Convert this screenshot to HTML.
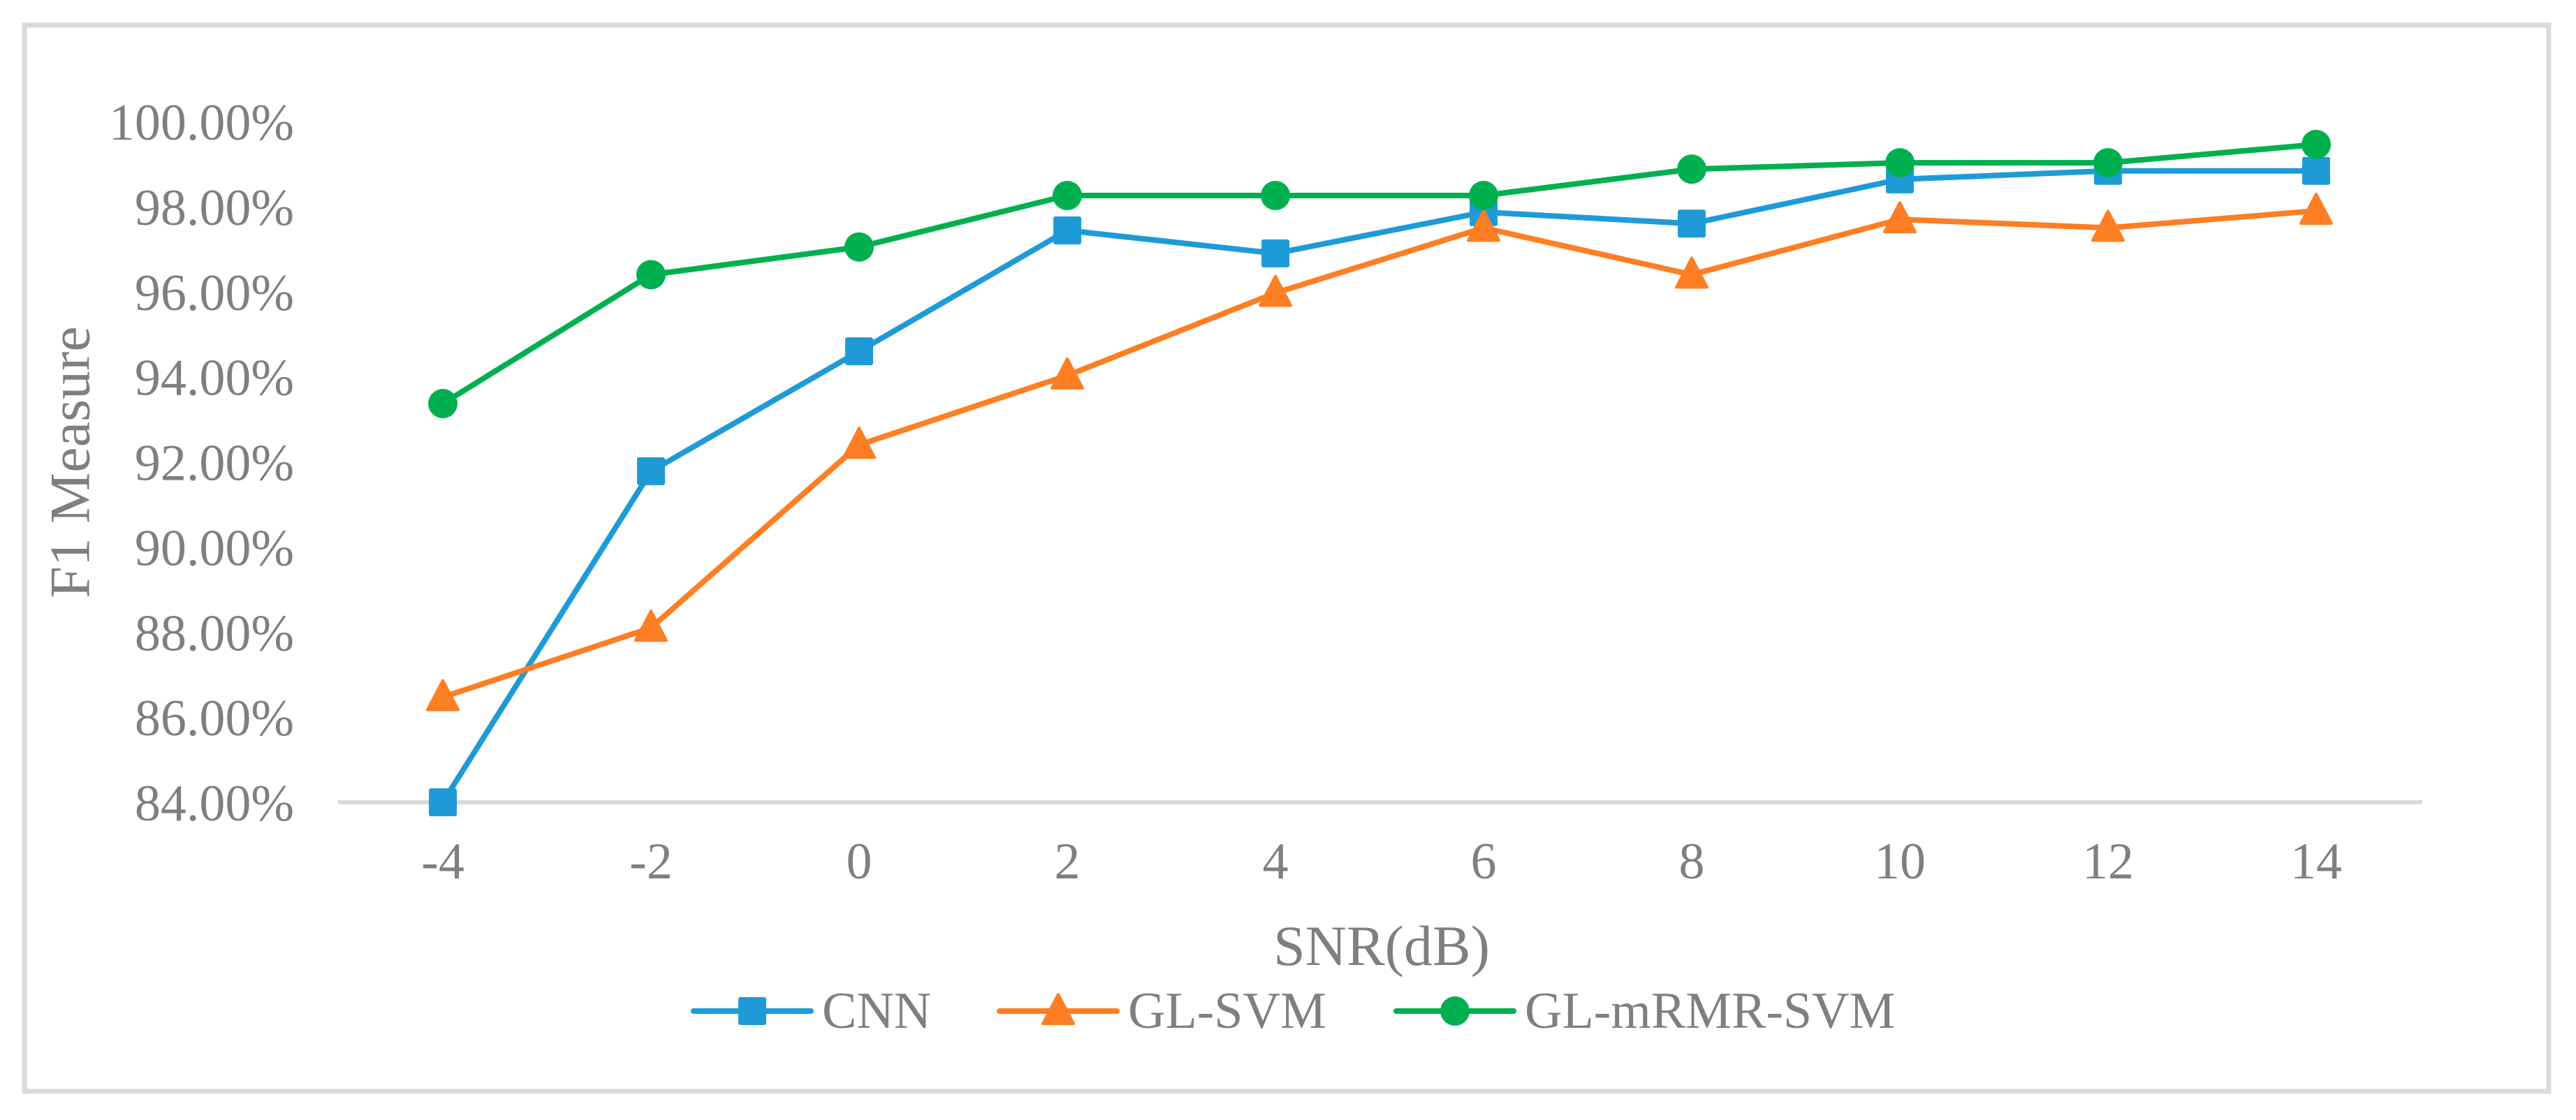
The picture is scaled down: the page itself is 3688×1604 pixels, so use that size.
<!DOCTYPE html>
<html><head><meta charset="utf-8"><style>
html,body{margin:0;padding:0;background:#fff;}
svg{display:block;}
text{font-family:"Liberation Serif",serif;fill:#7f7f7f;}
</style></head><body>
<svg id="chart" width="3688" height="1604" viewBox="0 0 3688 1604">
<rect x="35" y="36" width="3614" height="1527" fill="#fff" stroke="#d9d9d9" stroke-width="7"/>
<g id="yticks"></g>
<g id="xticks"></g>
<line id="xaxis" stroke="#d9d9d9" stroke-width="6"/>
<g id="series"></g>
<text x="100" y="662" font-size="82" text-anchor="middle" dominant-baseline="central" transform="rotate(-90 100 662)">F1 Measure</text>
<text x="1978" y="1382" font-size="82" text-anchor="middle">SNR(dB)</text>
<g id="legend"></g>
</svg>
<script>
const categories = [-4,-2,0,2,4,6,8,10,12,14];
const cnnValues = [84.0,91.78,94.6,97.44,96.9,97.87,97.6,98.64,98.84,98.84];
const glsvmValues = [86.47,88.1,92.4,94.03,95.97,97.5,96.4,97.7,97.5,97.9];
const glmrmrValues = [93.37,96.4,97.05,98.26,98.26,98.26,98.88,99.03,99.03,99.46];
const yTicks = [84,86,88,90,92,94,96,98,100];
const seriesNames = ["CNN","GL-SVM","GL-mRMR-SVM"];

const NS="http://www.w3.org/2000/svg";
const yMin=84,yMax=100,yBottom=1149,yTop=174;
const xFirst=634,xStep=298;
function yScale(v){return yBottom-(v-yMin)/(yMax-yMin)*(yBottom-yTop);}
function xScale(i){return xFirst+i*xStep;}
function mk(tag,attrs,parent){const e=document.createElementNS(NS,tag);for(const k in attrs)e.setAttribute(k,attrs[k]);parent.appendChild(e);return e;}

const yt=document.getElementById('yticks');
yTicks.forEach(v=>{
  const t=mk('text',{x:421,y:yScale(v)+26,'font-size':74,'text-anchor':'end'},yt);
  
  
  t.textContent=v.toFixed(2)+'%';
});
const xt=document.getElementById('xticks');
categories.forEach((c,i)=>{
  const t=mk('text',{x:xScale(i),y:1258,'font-size':74,'text-anchor':'middle'},xt);
  
  
  t.textContent=String(c);
});
const ax=document.getElementById('xaxis');
ax.setAttribute('x1',484);ax.setAttribute('x2',3468);
ax.setAttribute('y1',yScale(yMin));ax.setAttribute('y2',yScale(yMin));

function marker(type,cx,cy,color,parent){
  let m;
  if(type==='square') m=mk('rect',{x:cx-20,y:cy-20,width:40,height:40,rx:3,fill:color},parent);
  else if(type==='triangle') m=mk('path',{d:`M${cx},${cy-24} L${cx+22},${cy+18} L${cx-22},${cy+18} Z`,fill:color,'stroke':color,'stroke-width':4,'stroke-linejoin':'round'},parent);
  else m=mk('circle',{cx:cx,cy:cy,r:21,fill:color},parent);
  return m;
}
const defs=[
  {vals:cnnValues,color:'#1e9bd7',m:'square',name:'cnn'},
  {vals:glsvmValues,color:'#fd7e23',m:'triangle',name:'gl-svm'},
  {vals:glmrmrValues,color:'#00b04f',m:'circle',name:'gl-mrmr-svm'}
];
const sg=document.getElementById('series');
defs.forEach(d=>{
  const g=mk('g',{},sg);
  
  
  const pts=d.vals.map((v,i)=>xScale(i)+','+yScale(v)).join(' ');
  const pl=mk('polyline',{points:pts,fill:'none',stroke:d.color,'stroke-width':8,'stroke-linejoin':'round','stroke-linecap':'round'},g);
  
  
  d.vals.forEach((v,i)=>{
    const m=marker(d.m,xScale(i),yScale(v),d.color,g);
    
    
  });
});
const lg=document.getElementById('legend');
const legX=[993,1431,1999];
defs.forEach((d,i)=>{
  const g=mk('g',{},lg);
  
  
  mk('line',{x1:legX[i],x2:legX[i]+168,y1:1448,y2:1448,stroke:d.color,'stroke-width':8,'stroke-linecap':'round'},g);
  marker(d.m,legX[i]+84,1448,d.color,g);
  const t=mk('text',{x:legX[i]+184,y:1472,'font-size':74},g);
  
  
  t.textContent=seriesNames[i];
});
</script>
</body></html>
